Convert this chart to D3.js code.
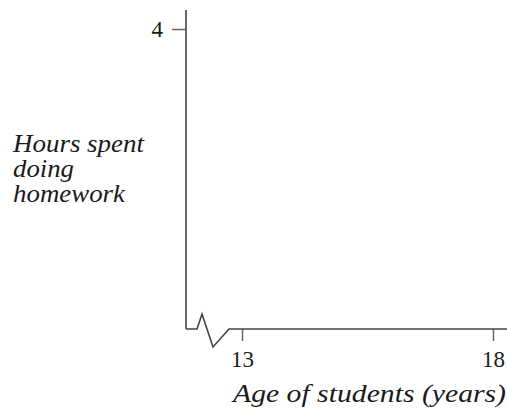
<!DOCTYPE html>
<html>
<head>
<meta charset="utf-8">
<script src="https://cdn.jsdelivr.net/npm/d3@7"></script>
<style>
  html, body { margin: 0; padding: 0; background: #fff; }
  svg { display: block; }
  .serif { font-family: "Liberation Serif", "Times New Roman", Times, serif; }
</style>
</head>
<body>
<script>
// ---- data ----
const xTickValues = [13, 18];
const xTickLabels = ["13", "18"];
const yTickValues = [4];
const yTickLabels = ["4"];
const xDomain = [13, 18];
const yDomain = [0, 4];
const xTitle = "Age of students (years)";
const yTitleLines = ["Hours spent", "doing", "homework"];

const W = 507, H = 419;
const originX = 186, originY = 329;

const svg = d3.select("body").append("svg").attr("width", W).attr("height", H);

const x = d3.scaleLinear().domain(xDomain).range([242, 493]);
const y = d3.scaleLinear().domain(yDomain).range([originY, 29]);

const axisColor = "#444";
const tickColor = "#666";
const textColor = "#1a1a1a";

// y axis
const gy = svg.append("g").attr("transform", `translate(${originX},0)`)
  .call(d3.axisLeft(y).tickValues(yTickValues).tickFormat((d, i) => yTickLabels[i]).tickSize(14).tickPadding(9));
gy.attr("font-family", null).attr("font-size", null);
gy.select(".domain").remove();
gy.selectAll(".tick line").attr("stroke", tickColor).attr("stroke-width", 1.5);
gy.selectAll(".tick text").attr("class", "serif").style("font-size", "23px").attr("fill", textColor);

svg.append("line").attr("x1", originX).attr("x2", originX).attr("y1", 10).attr("y2", originY)
  .attr("stroke", axisColor).attr("stroke-width", 1.6);

// x axis
const gx = svg.append("g").attr("transform", `translate(0,${originY})`)
  .call(d3.axisBottom(x).tickValues(xTickValues).tickFormat((d, i) => xTickLabels[i]).tickSize(12).tickPadding(10));
gx.attr("font-family", null).attr("font-size", null);
gx.select(".domain").remove();
gx.selectAll(".tick line").attr("stroke", tickColor).attr("stroke-width", 1.5);
gx.selectAll(".tick text").attr("class", "serif").style("font-size", "23px").attr("fill", textColor);

// x axis line with break symbol
const brk = [[0, 0], [11, 0], [16, -15], [27, 18], [43, 0], [W - originX, 0]];
svg.append("path")
  .attr("d", d3.line()(brk.map(p => [originX + p[0], originY + p[1]])))
  .attr("fill", "none").attr("stroke", axisColor).attr("stroke-width", 1.6).attr("stroke-linejoin", "miter");

// titles
svg.append("text").attr("class", "serif").attr("x", 233).attr("y", 402)
  .style("font-style", "italic").style("font-size", "25px").attr("fill", textColor)
  .attr("textLength", 273).attr("lengthAdjust", "spacingAndGlyphs")
  .text(xTitle);

const yLens = [131, 61, 112];
yTitleLines.forEach((t, i) => {
  svg.append("text").attr("class", "serif").attr("x", 13).attr("y", 152 + i * 25)
    .style("font-style", "italic").style("font-size", "25px").attr("fill", textColor)
    .attr("textLength", yLens[i]).attr("lengthAdjust", "spacingAndGlyphs")
    .text(t);
});
</script>
</body>
</html>
